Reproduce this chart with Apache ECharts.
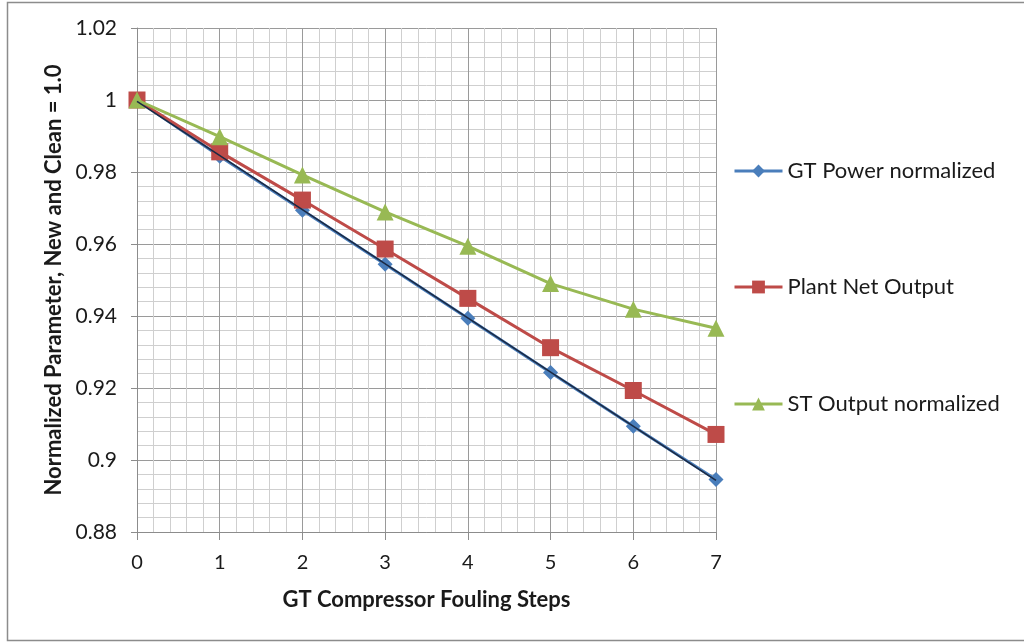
<!DOCTYPE html>
<html>
<head>
<meta charset="utf-8">
<script src="https://cdn.jsdelivr.net/npm/echarts@6/dist/echarts.min.js"></script>
<style>
  html, body { margin: 0; padding: 0; background: #fff; }
  #chart { width: 1024px; height: 642px; }
</style>
</head>
<body>
<div id="chart"></div>
<script>
// Fouling steps on the x axis
const steps = [0, 1, 2, 3, 4, 5, 6, 7];

// Normalized values (new and clean = 1.0)
const gtPower = [1.0, 0.9844, 0.9694, 0.9544, 0.9394, 0.9243, 0.9094, 0.8946];
const plantNet = [1.0, 0.9856, 0.9722, 0.9586, 0.9449, 0.9312, 0.9193, 0.9071];
const stOutput = [1.0, 0.9898, 0.9792, 0.9689, 0.9594, 0.9490, 0.9419, 0.9366];

const seriesNames = ['GT Power normalized', 'Plant Net Output', 'ST Output normalized'];

const FONT = 'Lato, "Open Sans", sans-serif';

// Least-squares linear trendline through the GT power points
function linearFit(xs, ys) {
  const n = xs.length;
  const mx = xs.reduce((a, b) => a + b, 0) / n;
  const my = ys.reduce((a, b) => a + b, 0) / n;
  let sxy = 0, sxx = 0;
  for (let i = 0; i < n; i++) {
    sxy += (xs[i] - mx) * (ys[i] - my);
    sxx += (xs[i] - mx) * (xs[i] - mx);
  }
  const slope = sxy / sxx;
  return { slope, intercept: my - slope * mx };
}
const fit = linearFit(steps, gtPower);
const xFirst = steps[0], xLast = steps[steps.length - 1];
const trendData = [
  [xFirst, fit.intercept + fit.slope * xFirst],
  [xLast, fit.intercept + fit.slope * xLast]
];

const pair = (ys) => steps.map((x, i) => [x, ys[i]]);

const chart = echarts.init(document.getElementById('chart'));

function legendAt(name, top) {
  return {
    data: [name],
    left: 733,
    top: top,
    padding: 0,
    orient: 'vertical',
    itemWidth: 48,
    itemHeight: 16,
    lineStyle: { width: 3 },
    textStyle: { fontFamily: FONT, fontSize: 22, color: '#1a1a1a' },
    selectedMode: false
  };
}

chart.setOption({
  animation: false,
  backgroundColor: '#fff',
  graphic: [{
    type: 'rect',
    shape: { x: 7.5, y: 2.5, width: 1030, height: 638 },
    style: { fill: 'none', stroke: '#8c8c8c', lineWidth: 1.5 },
    silent: true,
    z: -1
  }],
  legend: [
    legendAt(seriesNames[0], 160),
    legendAt(seriesNames[1], 276),
    legendAt(seriesNames[2], 393)
  ],
  grid: { left: 137, right: 308, top: 28, bottom: 110, containLabel: false },
  xAxis: {
    type: 'value',
    min: 0, max: 7, interval: 1,
    name: 'GT Compressor Fouling Steps',
    nameLocation: 'middle',
    nameGap: 57,
    nameTextStyle: { fontFamily: FONT, fontSize: 22, fontWeight: 'bold', color: '#1a1a1a' },
    axisLine: { show: true, lineStyle: { color: '#8c8c8c', width: 1 } },
    axisTick: { show: true, length: 8, lineStyle: { color: '#8c8c8c' } },
    minorTick: { show: true, splitNumber: 5, length: 0 },
    axisLabel: { fontFamily: FONT, fontSize: 20, color: '#1a1a1a', margin: 21 },
    splitLine: { show: true, lineStyle: { color: '#9a9a9a', width: 1 } },
    minorSplitLine: { show: true, lineStyle: { color: '#cfcfcf', width: 1 } }
  },
  yAxis: {
    type: 'value',
    min: 0.88, max: 1.02, interval: 0.02,
    name: 'Normalized Parameter, New and Clean = 1.0',
    nameLocation: 'middle',
    nameGap: 70,
    nameTextStyle: { fontFamily: FONT, fontSize: 22, fontWeight: 'bold', color: '#1a1a1a' },
    axisLine: { show: true, lineStyle: { color: '#8c8c8c', width: 1 } },
    axisTick: { show: true, length: 6, lineStyle: { color: '#8c8c8c' } },
    minorTick: { show: true, splitNumber: 5, length: 0 },
    axisLabel: {
      fontFamily: FONT, fontSize: 21, color: '#1a1a1a', margin: 20,
      formatter: (v) => String(parseFloat(v.toFixed(2)))
    },
    splitLine: { show: true, lineStyle: { color: '#9a9a9a', width: 1 } },
    minorSplitLine: { show: true, lineStyle: { color: '#cfcfcf', width: 1 } }
  },
  series: [
    {
      name: seriesNames[0],
      type: 'line',
      data: pair(gtPower),
      symbol: 'diamond',
      symbolSize: 15,
      lineStyle: { color: '#4a7ebb', width: 3 },
      itemStyle: { color: '#4a7ebb' },
      z: 2
    },
    {
      name: seriesNames[1],
      type: 'line',
      data: pair(plantNet),
      symbol: 'rect',
      symbolSize: 17,
      lineStyle: { color: '#be4b48', width: 3 },
      itemStyle: { color: '#be4b48' },
      z: 3
    },
    {
      name: seriesNames[2],
      type: 'line',
      data: pair(stOutput),
      symbol: 'triangle',
      symbolSize: 17,
      lineStyle: { color: '#98b954', width: 3 },
      itemStyle: { color: '#98b954' },
      z: 4
    },
    {
      name: 'trend',
      type: 'line',
      data: trendData,
      symbol: 'none',
      silent: true,
      lineStyle: { color: '#1b2a44', width: 1.6 },
      z: 5
    }
  ]
});
</script>
</body>
</html>
